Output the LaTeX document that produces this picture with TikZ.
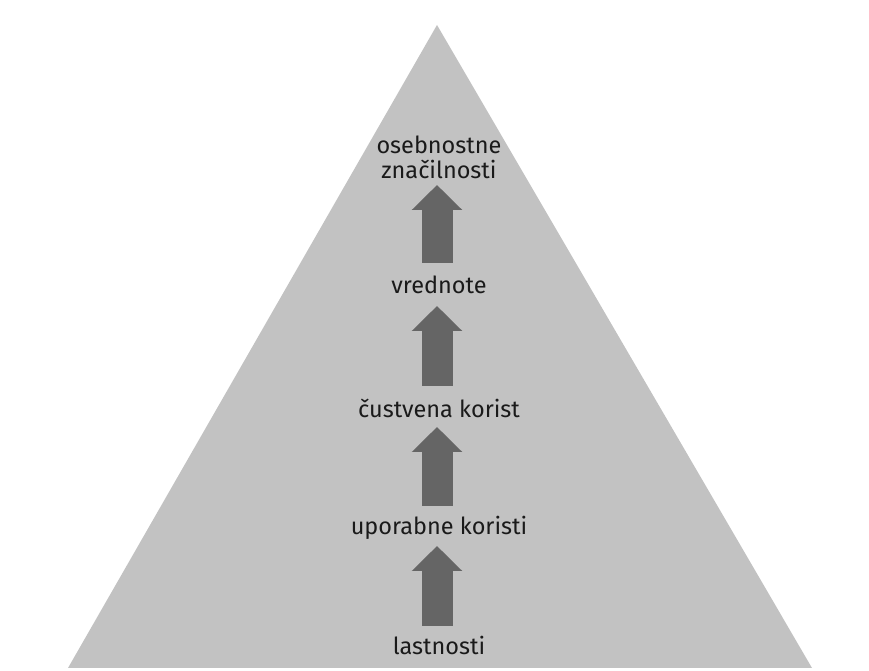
\documentclass[tikz,border=0pt]{standalone}
\usepackage{fontspec}
\setmainfont{Fira Sans}
\usetikzlibrary{arrows.meta}
\definecolor{pyrfill}{HTML}{C2C2C2}
\definecolor{arrowgray}{HTML}{656565}
\definecolor{labelink}{HTML}{1A1A1A}
\begin{document}
\begin{tikzpicture}[x=1pt,y=1pt,
  lbl/.style={inner sep=0pt, text=labelink, font=\fontsize{23.5}{25}\selectfont, align=center},
  uparrow/.style={draw=arrowgray, line width=31pt,
    -{Triangle[width=49pt,length=25pt,fill=arrowgray]}}]
  % page
  \fill[white] (0,0) rectangle (869,671);
  \useasboundingbox (0,0) rectangle (869,671);
  % pyramid
  \fill[pyrfill] (68,3) -- (437,646) -- (812,3) -- cycle;
  % levels, bottom to top
  \node[lbl] (l1) at (439,26) {lastnosti};
  \node[lbl] (l2) at (439,143) {uporabne koristi};
  \node[lbl] (l3) at (439,263) {čustvena korist};
  \node[lbl] (l4) at (439,386) {vrednote};
  \node[lbl] (l5) at (439,514) {osebnostne\\značilnosti};
  % arrows between levels
  \draw[uparrow] ([xshift=-2pt,yshift=19pt]l1.center) -- ([xshift=-2pt,yshift=-18pt]l2.center);
  \draw[uparrow] ([xshift=-2pt,yshift=22pt]l2.center) -- ([xshift=-2pt,yshift=-19pt]l3.center);
  \draw[uparrow] ([xshift=-2pt,yshift=22pt]l3.center) -- ([xshift=-2pt,yshift=-21pt]l4.center);
  \draw[uparrow] ([xshift=-2pt,yshift=22pt]l4.center) -- ([xshift=-2pt,yshift=-28pt]l5.center);
\end{tikzpicture}
\end{document}
